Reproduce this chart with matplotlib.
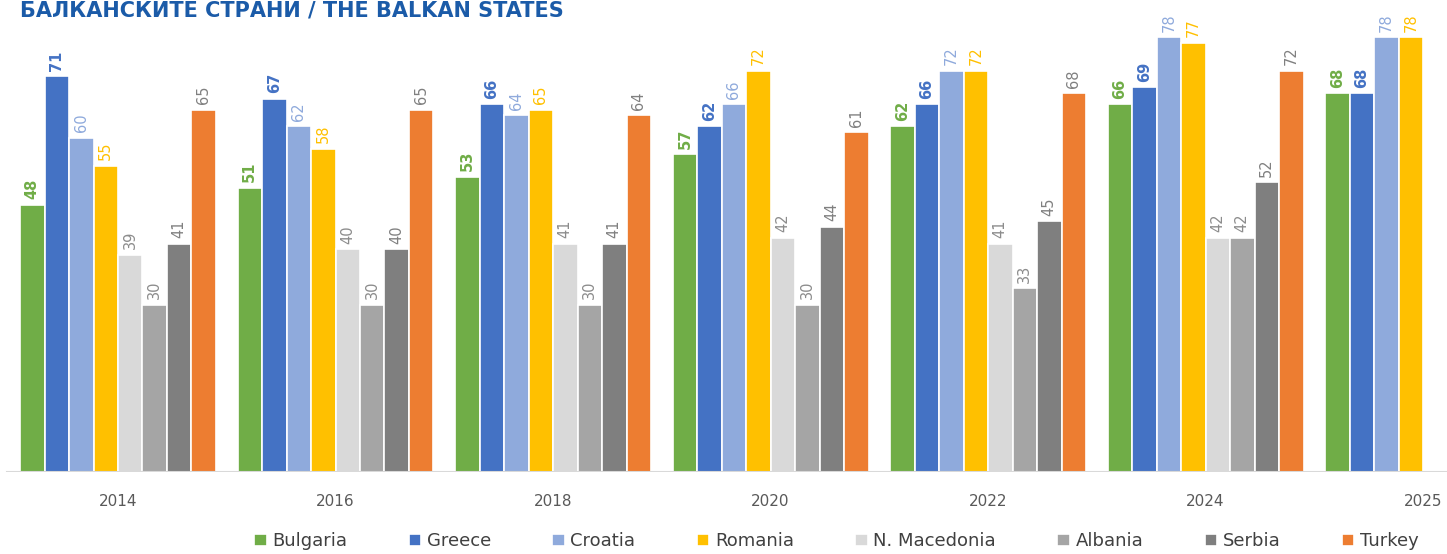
import numpy as np
import matplotlib.pyplot as plt

years = ["2014", "2016", "2018", "2020", "2022", "2024", "2025"]
countries = ["Bulgaria", "Greece", "Croatia", "Romania", "N. Macedonia", "Albania", "Serbia", "Turkey"]
nan = np.nan
bulgaria = [48, 51, 53, 57, 62, 66, 68]
greece = [71, 67, 66, 62, 66, 69, 68]
croatia = [60, 62, 64, 66, 72, 78, 78]
romania = [55, 58, 65, 72, 72, 77, 78]
macedonia = [39, 40, 41, 42, 41, 42, nan]
albania = [30, 30, 30, 30, 33, 42, nan]
serbia = [41, 40, 41, 44, 45, 52, nan]
turkey = [65, 65, 64, 61, 68, 72, nan]
series = [bulgaria, greece, croatia, romania, macedonia, albania, serbia, turkey]

colors = ["#70AD47", "#4472C4", "#8FAADC", "#FFC000", "#D9D9D9", "#A5A5A5", "#7F7F7F", "#ED7D31"]
label_colors = ["#70AD47", "#4472C4", "#8FAADC", "#FFC000", "#8C8C8C", "#8C8C8C", "#808080", "#808080"]
label_weight = ["bold", "bold", "normal", "normal", "normal", "normal", "normal", "normal"]

fig = plt.figure(figsize=(14.47, 5.54), dpi=100)
ax = fig.add_axes([0, 82 / 554, 1, 472 / 554])

x = np.arange(len(years))
slot = 0.1126
for i, (name, vals) in enumerate(zip(countries, series)):
    pos = x + (i - 3.5) * slot
    ax.bar(pos, vals, width=slot, color=colors[i], edgecolor="white", linewidth=1.2, label=name)
    for p, v in zip(pos, vals):
        if np.isnan(v):
            continue
        ax.annotate(f"{v:g}", (p, v), xytext=(0, 4), textcoords="offset points",
                    rotation=90, ha="center", va="bottom", fontsize=10.5,
                    color=label_colors[i], fontweight=label_weight[i])

ax.set_xlim(-0.5425, 6.11)
ax.set_ylim(0, 84.7)
ax.axhline(0, color="#D9D9D9", linewidth=1.5, xmin=0.005)
for s in ax.spines.values():
    s.set_visible(False)
ax.set_yticks([])
ax.set_xticks(x)
ax.set_xticklabels(years, fontsize=11, color="#595959")
ax.tick_params(axis="x", length=0, pad=16)

fig.text(0.014, 1 - 16 / 554, "БАЛКАНСКИТЕ СТРАНИ / THE BALKAN STATES", ha="left", va="baseline",
         fontsize=15, fontweight="bold", color="#1B5BA8")

fig.legend(loc="center", bbox_to_anchor=(0.578, 0.023), ncol=8, frameon=False,
           fontsize=13, handlelength=0.7, handleheight=0.7, handletextpad=0.3,
           columnspacing=3.4, labelcolor="#404040")

fig.savefig("out.png", dpi=100)
